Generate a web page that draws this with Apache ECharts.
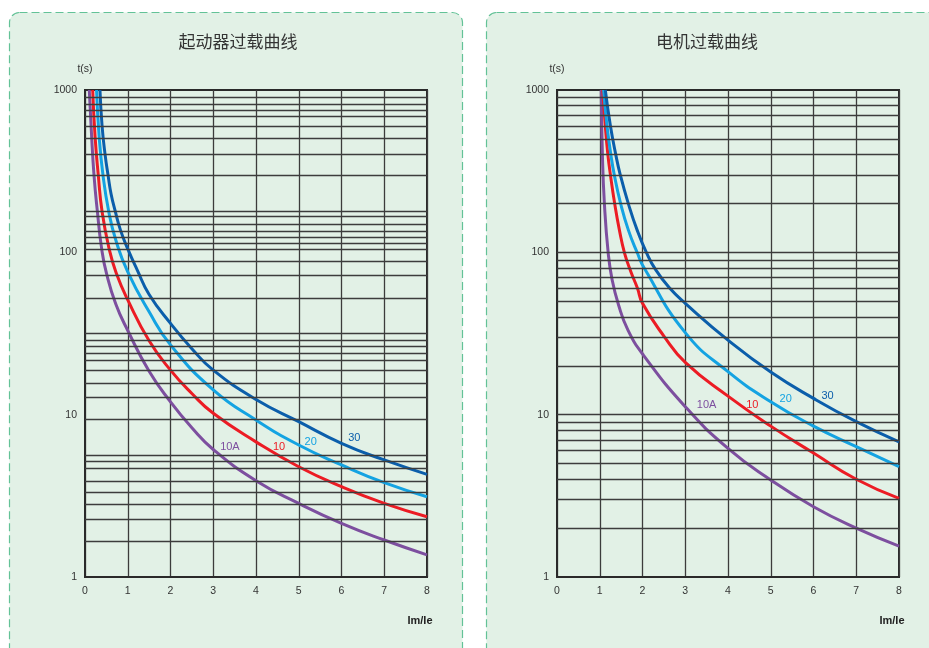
<!DOCTYPE html>
<html><head><meta charset="utf-8">
<script src="https://cdn.jsdelivr.net/npm/echarts@6/dist/echarts.min.js"></script>
<style>html,body{margin:0;padding:0;background:#fff}#c{width:929px;height:648px}</style>
</head><body><div id="c"></div>
<script>
const titles = ['起动器过载曲线', '电机过载曲线'];
const seriesNames = ['10A', '10', '20', '30'];
const colors = ['#7d4f9f', '#ec1c24', '#14a3e2', '#0b5eab'];
const xAxisName = 'Im/Ie';
const yAxisName = 't(s)';

// 起动器过载曲线 (x = Im/Ie, y = t(s))
const starter10A = [[0.10,1000],[0.15,550],[0.21,300],[0.29,178],[0.39,105],[0.50,74.6],[0.72,48],[1,33],[1.5,18.5],[2,12.0],[2.5,8.3],[3,6.1],[4,3.92],[5,2.84],[6,2.14],[7,1.69],[8,1.37]];
const starter10  = [[0.18,1000],[0.235,520],[0.31,300],[0.40,178],[0.565,105],[0.73,74.6],[1,50.9],[1.5,28.5],[2,18.8],[2.5,13.5],[3,10.2],[4,6.8],[5,4.78],[6,3.6],[7,2.84],[8,2.35]];
const starter20  = [[0.27,1000],[0.33,520],[0.42,300],[0.556,178],[0.72,119],[1,75.7],[1.5,43],[2,26.9],[3,14.2],[4,9.27],[5,6.5],[6,4.9],[7,3.81],[8,3.12]];
const starter30  = [[0.35,1000],[0.40,598],[0.47,400],[0.54,298],[0.61,229],[0.71,178],[0.83,137],[1.0,105],[1.22,78],[1.5,55],[2,36.5],[2.5,25.5],[3,18.8],[4,12.4],[5,9.05],[6,6.66],[7,5.26],[8,4.29]];

// 电机过载曲线
const motor10A = [[1.035,1000],[1.062,400],[1.109,199],[1.198,99],[1.29,67.6],[1.44,47.4],[1.66,33.2],[2.02,23.3],[3,11.2],[4,6.2],[5,3.96],[6,2.71],[7,2.0],[8,1.55]];
const motor10  = [[1.07,1000],[1.13,600],[1.19,400],[1.25,300],[1.35,199],[1.46,137],[1.58,99],[1.73,75.7],[1.88,60.3],[2,48.5],[2.5,30.5],[3,21],[4,13.0],[5,8.5],[6,5.8],[7,4.0],[8,3.05]];
const motor20  = [[1.09,1000],[1.17,600],[1.26,400],[1.34,300],[1.49,199],[1.67,137],[1.88,99],[2.04,80],[3,32],[4,18.4],[5,12.0],[6,8.5],[7,6.35],[8,4.78]];
const motor30  = [[1.13,1000],[1.25,600],[1.375,400],[1.48,300],[1.67,199],[1.875,137],[2.09,100],[2.31,78],[2.64,60],[3,48.5],[4,28.8],[5,18.3],[6,12.6],[7,9.05],[8,6.8]];

// curve label anchors (data coordinates)
const starterLabelAt = [[3.39,6.35],[4.54,6.35],[5.28,6.76],[6.3,7.15]];
const motorLabelAt   = [[3.5,11.47],[4.57,11.47],[5.35,12.5],[6.33,13.1]];

// horizontal grid lines (values on the t axis)
const starterGridValues = [897,820,750,689,598,504,400,300,178,166,149,135,123,114,105,88,72,52.5,31.7,28.8,26.5,23.9,21.7,18.7,15.7,12.8,9.4,5.64,5.13,4.67,3.87,3.31,2.8,2.28,1.67];
const motorGridValues = [900,800,700,600,500,400,300,200,100,90,80,70,60,50,40,30,20,10,9,8,7,6,5,4,3,2];

const xMin = 0, xMax = 8, xInterval = 1;
const yMin = 1, yMax = 1000;

const FONT = 'Liberation Sans, Arial, sans-serif';
const CJK = 'Noto Sans CJK SC, sans-serif';
const panels = [
  { curves: [starter10A, starter10, starter20, starter30], labels: starterLabelAt, grid: starterGridValues, left: 85, panelX: 9.5, titleX: 233 },
  { curves: [motor10A, motor10, motor20, motor30], labels: motorLabelAt, grid: motorGridValues, left: 557, panelX: 486.5, titleX: 702 }
];

const option = {
  animation: false,
  backgroundColor: '#ffffff',
  title: panels.map((p, i) => ({
    text: titles[i], left: p.titleX, top: 28, textAlign: 'center',
    textStyle: { fontFamily: CJK, fontSize: 17, fontWeight: 'normal', color: '#333' }
  })),
  grid: panels.map(p => ({ left: p.left, top: 90, width: 342, height: 487, show: true, borderColor: '#2a2a2a', borderWidth: 2, backgroundColor: 'transparent' })),
  xAxis: panels.map((p, i) => ({
    gridIndex: i, type: 'value', min: xMin, max: xMax, interval: xInterval,
    axisLine: { show: true, onZero: false, lineStyle: { color: '#2a2a2a', width: 2 } },
    axisTick: { show: false },
    axisLabel: { color: '#333', fontSize: 10.5, fontFamily: FONT, margin: 9 },
    splitLine: { show: true, lineStyle: { color: '#3c3c3c', width: 1.3 } }
  })),
  yAxis: panels.map((p, i) => ({
    gridIndex: i, type: 'log', logBase: 10, min: yMin, max: yMax,
    name: yAxisName, nameLocation: 'end', nameGap: 15,
    nameTextStyle: { color: '#333', fontSize: 10.5, fontFamily: FONT, align: 'center' },
    axisLine: { show: true, lineStyle: { color: '#2a2a2a', width: 2 } },
    axisTick: { show: false },
    axisLabel: { color: '#333', fontSize: 10.5, fontFamily: FONT, margin: 8, formatter: v => String(Math.round(v)) },
    splitLine: { show: false }
  })),
  graphic: [
    ...panels.map(p => ({
      type: 'rect', z: -10, silent: true,
      shape: { x: p.panelX, y: 12.5, width: 453, height: 700, r: 10 },
      style: { fill: '#e2f1e6', stroke: '#63c297', lineWidth: 1.2, lineDash: [8, 4] }
    })),
    ...panels.map(p => ({
      type: 'text', z: 10, silent: true, x: p.left + 335, y: 621,
      style: { text: xAxisName, font: 'bold 11px ' + FONT, fill: '#222', align: 'center', verticalAlign: 'middle' }
    }))
  ],
  series: []
};

panels.forEach((p, i) => {
  option.series.push({
    type: 'line', xAxisIndex: i, yAxisIndex: i, data: [], z: 1, silent: true,
    markLine: {
      silent: true, symbol: ['none', 'none'], animation: false,
      label: { show: false },
      lineStyle: { color: '#3c3c3c', width: 1.3, type: 'solid' },
      emphasis: { disabled: true },
      data: p.grid.map(v => ({ yAxis: v }))
    }
  });
  p.curves.forEach((d, k) => {
    option.series.push({
      name: seriesNames[k], type: 'line', xAxisIndex: i, yAxisIndex: i, data: d, z: 3,
      smooth: 0.5, showSymbol: false, symbol: 'none',
      lineStyle: { color: colors[k], width: 3 }, itemStyle: { color: colors[k] },
      markPoint: {
        symbol: 'circle', symbolSize: 1, itemStyle: { color: 'rgba(0,0,0,0)' },
        label: { show: true, position: 'inside', formatter: seriesNames[k], color: colors[k], fontSize: 11, fontFamily: FONT },
        data: [{ coord: p.labels[k], name: seriesNames[k] }]
      }
    });
  });
});

const chart = echarts.init(document.getElementById('c'));
chart.setOption(option);
</script>
</body></html>
